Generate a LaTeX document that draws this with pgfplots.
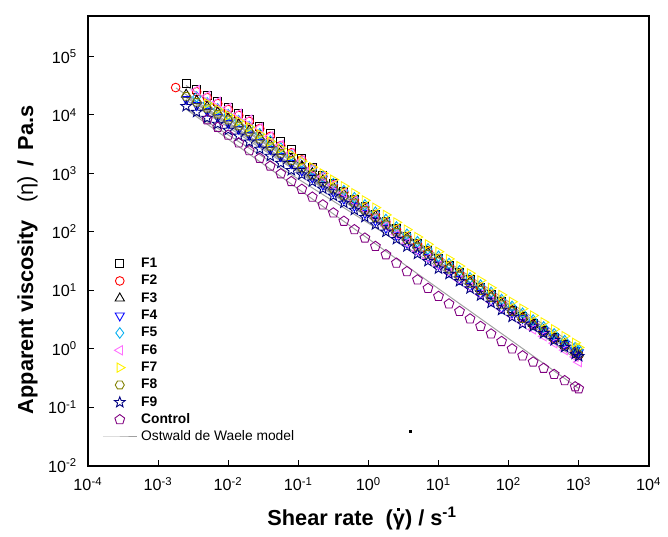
\documentclass[border=0pt]{standalone}
\usepackage{fontspec}
\setmainfont{Liberation Sans}
\usepackage{pgfplots}
\pgfplotsset{compat=1.18}
\usepackage{pgfplotstable}
\usetikzlibrary{plotmarks}

\definecolor{fpink}{RGB}{255,110,255}
\definecolor{folive}{RGB}{128,128,0}
\definecolor{fnavy}{RGB}{0,0,128}
\definecolor{fpurple}{RGB}{128,0,128}
\definecolor{fitgray}{RGB}{160,160,160}

% open hexagon and five-pointed star marks
\pgfdeclareplotmark{hexagon}{%
  \pgfpathmoveto{\pgfpointpolar{0}{\pgfplotmarksize}}%
  \pgfpathlineto{\pgfpointpolar{60}{\pgfplotmarksize}}%
  \pgfpathlineto{\pgfpointpolar{120}{\pgfplotmarksize}}%
  \pgfpathlineto{\pgfpointpolar{180}{\pgfplotmarksize}}%
  \pgfpathlineto{\pgfpointpolar{240}{\pgfplotmarksize}}%
  \pgfpathlineto{\pgfpointpolar{300}{\pgfplotmarksize}}%
  \pgfpathclose\pgfusepathqstroke}
\pgfdeclareplotmark{star5}{%
  \pgfpathmoveto{\pgfpointpolar{90}{\pgfplotmarksize}}%
  \pgfpathlineto{\pgfpointpolar{126}{0.42*\pgfplotmarksize}}%
  \pgfpathlineto{\pgfpointpolar{162}{\pgfplotmarksize}}%
  \pgfpathlineto{\pgfpointpolar{198}{0.42*\pgfplotmarksize}}%
  \pgfpathlineto{\pgfpointpolar{234}{\pgfplotmarksize}}%
  \pgfpathlineto{\pgfpointpolar{270}{0.42*\pgfplotmarksize}}%
  \pgfpathlineto{\pgfpointpolar{306}{\pgfplotmarksize}}%
  \pgfpathlineto{\pgfpointpolar{342}{0.42*\pgfplotmarksize}}%
  \pgfpathlineto{\pgfpointpolar{18}{\pgfplotmarksize}}%
  \pgfpathlineto{\pgfpointpolar{54}{0.42*\pgfplotmarksize}}%
  \pgfpathclose\pgfusepathqstroke}

% gamma with a square dot above (shear rate)
\newcommand{\gdot}{\rlap{\hspace{0.2em}\raisebox{0.66em}{\rule{0.14em}{0.14em}}}γ}

% shear rate (1/s) vs apparent viscosity (Pa.s)
\pgfplotstableread{
x        F1      F2      F3      F4      F5      F6      F7      F8      F9      C
0.00178  nan     2.95e4  nan     nan     nan     nan     nan     nan     nan     nan
0.002512 3.47e4  nan     2.24e4  1.86e4  nan     nan     nan     2.09e4  1.41e4  nan
0.003548 2.74e4  2.50e4  1.77e4  1.47e4  2.03e4  2.68e4  nan     1.65e4  1.12e4  nan
0.005012 2.17e4  1.98e4  1.40e4  1.17e4  1.61e4  2.12e4  1.57e4  1.31e4  8.85e3  8.32e3
0.007079 1.72e4  1.57e4  1.11e4  9.23e3  1.27e4  1.68e4  1.24e4  1.03e4  7.00e3  6.17e3
0.01     1.36e4  1.24e4  8.77e3  7.30e3  1.01e4  1.33e4  9.84e3  8.18e3  5.53e3  4.53e3
0.01413  1.08e4  9.82e3  6.95e3  5.78e3  7.98e3  1.05e4  7.80e3  6.48e3  4.39e3  3.34e3
0.01995  8.52e3  7.77e3  5.50e3  4.58e3  6.31e3  8.33e3  6.17e3  5.13e3  3.47e3  2.46e3
0.02818  6.43e3  5.86e3  4.15e3  3.45e3  4.76e3  6.02e3  4.66e3  3.87e3  2.62e3  1.82e3
0.03981  4.85e3  4.30e3  3.13e3  2.60e3  3.59e3  4.32e3  3.51e3  2.92e3  1.98e3  1.34e3
0.05623  3.51e3  2.98e3  2.37e3  1.97e3  2.72e3  3.08e3  2.66e3  2.21e3  1.50e3  986
0.07943  2.53e3  2.25e3  1.79e3  1.49e3  2.05e3  2.24e3  2.08e3  1.67e3  1.13e3  726
0.1122   1.78e3  1.70e3  1.35e3  1.12e3  1.55e3  1.65e3  1.62e3  1.26e3  956     536
0.1585   1.28e3  1.22e3  1.02e3  849     1.17e3  1.20e3  1.28e3  952     722     394
0.2239   927     887     771     641     885     887     1.00e3  719     546     290
0.3162   669     641     583     485     669     641     781     544     413     211
0.4467   495     476     441     367     506     463     604     411     312     152
0.631    365     353     333     277     382     333     460     311     236     109
0.8913   269     264     251     209     288     243     346     234     178     78.3
1.259    202     197     188     156     216     175     259     175     133     56.4
1.778    151     148     141     117     162     125     195     132     99.8    40.6
2.512    113     110     105     87.7    121     89.6    145     98.3    74.6    29.2
3.548    84.6    82.6    78.9    65.6    90.6    63.9    109     73.6    55.9    20.9
5.012    63.2    61.8    59.0    49.1    67.7    46.8    81.4    55.0    41.8    15.1
7.079    47.5    46.4    44.3    36.9    50.9    35.2    61.1    41.3    31.4    10.8
10       35.5    34.7    33.1    27.5    38.0    26.3    45.7    30.9    23.4    7.87
14.13    26.7    26.1    24.9    20.7    28.6    19.8    34.4    23.2    18.9    5.85
19.95    20.1    19.6    18.75   15.6    21.5    14.9    25.9    17.5    14.2    4.36
28.18    15.1    14.8    14.13   11.8    16.2    11.2    19.5    13.2    10.7    3.24
39.81    11.4    11.1    10.64   8.85    12.2    8.45    14.7    9.93    8.08    2.41
56.23    8.58    8.38    8.00    6.66    9.18    6.35    11.0    7.46    6.07    1.79
79.43    6.46    6.31    6.03    5.02    6.92    4.79    8.32    5.63    4.58    1.33
112.2    4.60    4.46    4.60    4.14    5.28    3.65    6.35    4.29    3.49    0.993
158.5    3.51    3.40    3.51    3.33    4.03    2.79    4.84    3.27    2.66    0.755
223.9    2.68    2.60    2.68    2.60    3.08    2.13    3.70    2.50    2.39    0.592
316.2    2.05    1.99    2.05    2.03    2.35    1.63    2.83    1.91    1.83    0.463
446.7    1.56    1.51    1.56    1.56    1.79    1.24    2.15    1.46    1.39    0.363
631      1.19    1.15    1.19    1.20    1.37    0.945   1.64    1.11    1.06    0.284
891.3    0.910   0.88    0.910   0.93    1.04    0.723   1.26    0.849   0.811   0.223
1000     0.832   0.78    0.832   0.86    0.96    0.59    1.05    0.776   0.741   0.206
}\data

\begin{document}
\begin{tikzpicture}
\begin{axis}[
    scale only axis,
    width=283bp, height=227bp,
    clip=false,
    xmode=log, ymode=log,
    log basis x=10, log basis y=10,
    xmin=1e-4, xmax=1e4,
    ymin=1e-2, ymax=5e5,
    xtick={1e-4,1e-3,1e-2,1e-1,1,10,100,1000,1e4},
    ytick={1e-2,1e-1,1,10,100,1000,1e4,1e5},
    xtick pos=bottom, ytick pos=left,
    tick align=inside,
    axis line style={line width=1bp},
    major tick length=3bp, minor tick length=1.6bp,
    every tick/.style={black, line width=0.5bp},
    xticklabel={10\textsuperscript{\pgfmathparse{int(round(\tick))}\pgfmathresult}},
    yticklabel={10\textsuperscript{\pgfmathparse{int(round(\tick))}\pgfmathresult}},
    tick label style={font=\fontsize{8.2}{9}\selectfont},
    xticklabel style={yshift=-2.5bp},
    yticklabel style={xshift=-2bp},
    xlabel={Shear rate\ \ (\gdot) / s\textsuperscript{-1}},
    xlabel style={font=\bfseries\fontsize{11}{12}\selectfont, at={(rel axis cs:0.489,-0.117)}, anchor=center},
    ylabel={Apparent viscosity\hspace{0.8em}{\mdseries(η)}\hspace{0.45em}/\hspace{0.45em}Pa.s},
    ylabel style={font=\bfseries\fontsize{11}{12}\selectfont, at={(rel axis cs:-0.108,0.457)}, anchor=center},
    every axis plot/.append style={line width=0.45bp},
    legend cell align=left,
    legend style={draw=none, fill=none, at={(rel axis cs:0.025,0.463)}, anchor=north west,
        font=\bfseries\fontsize{7}{8}\selectfont, row sep=2.75bp, column sep=2bp,
        inner sep=0pt, nodes={inner sep=0pt, text height=5bp, text depth=1bp}},
]

\addplot[only marks, mark=square, black, mark size=2pt] table[x=x, y=F1] {\data};
\addlegendentry{F1}
\addplot[only marks, mark=o, red, mark size=2.2pt] table[x=x, y=F2] {\data};
\addlegendentry{F2}
\addplot[only marks, mark=triangle, black, mark size=2.7pt] table[x=x, y=F3] {\data};
\addlegendentry{F3}
\addplot[only marks, mark=triangle, blue, mark size=2.7pt, mark options={rotate=180}] table[x=x, y=F4] {\data};
\addlegendentry{F4}
\addplot[only marks, mark=diamond, cyan, mark size=2.7pt] table[x=x, y=F5] {\data};
\addlegendentry{F5}
\addplot[only marks, mark=triangle, fpink, mark size=2.7pt, mark options={rotate=90}] table[x=x, y=F6] {\data};
\addlegendentry{F6}
\addplot[only marks, mark=triangle, yellow, mark size=2.7pt, mark options={rotate=-90}] table[x=x, y=F7] {\data};
\addlegendentry{F7}
\addplot[only marks, mark=hexagon, folive, mark size=2.3pt] table[x=x, y=F8] {\data};
\addlegendentry{F8}
\addplot[only marks, mark=star5, fnavy, mark size=2.8pt] table[x=x, y=F9] {\data};
\addlegendentry{F9}
\addplot[only marks, mark=pentagon, fpurple, mark size=2.6pt] table[x=x, y=C] {\data};
\addlegendentry{Control}

% Ostwald de Waele (power law) fits
\addplot[fitgray, line width=0.5bp] coordinates {(0.0025,1.26e4) (1000,0.209)};
\addlegendentry{\mdseries Ostwald de Waele model}
\addplot[fitgray, line width=0.5bp, forget plot] coordinates {(0.0025,3.2e4) (1000,0.85)};
\addplot[fitgray, line width=0.5bp, forget plot] coordinates {(0.0018,2.9e4) (1000,0.80)};
\addplot[fitgray, line width=0.5bp, forget plot] coordinates {(0.0025,2.1e4) (1000,0.80)};
\addplot[fitgray, line width=0.5bp, forget plot] coordinates {(0.0025,1.8e4) (1000,0.86)};
\addplot[fitgray, line width=0.5bp, forget plot] coordinates {(0.0035,1.9e4) (1000,0.95)};
\addplot[fitgray, line width=0.5bp, forget plot] coordinates {(0.0035,2.4e4) (1000,0.62)};
\addplot[fitgray, line width=0.5bp, forget plot] coordinates {(0.005,1.5e4) (1000,1.05)};
\addplot[fitgray, line width=0.5bp, forget plot] coordinates {(0.0025,2.0e4) (1000,0.78)};
\addplot[fitgray, line width=0.5bp, forget plot] coordinates {(0.0025,1.3e4) (1000,0.76)};

% stray dot
\addplot[only marks, mark=square*, black, mark size=0.6pt, forget plot] coordinates {(3.95,0.038)};

\path (rel axis cs:-0.157,-0.150) rectangle (rel axis cs:1.023,1.035);
\end{axis}
\end{tikzpicture}
\end{document}
